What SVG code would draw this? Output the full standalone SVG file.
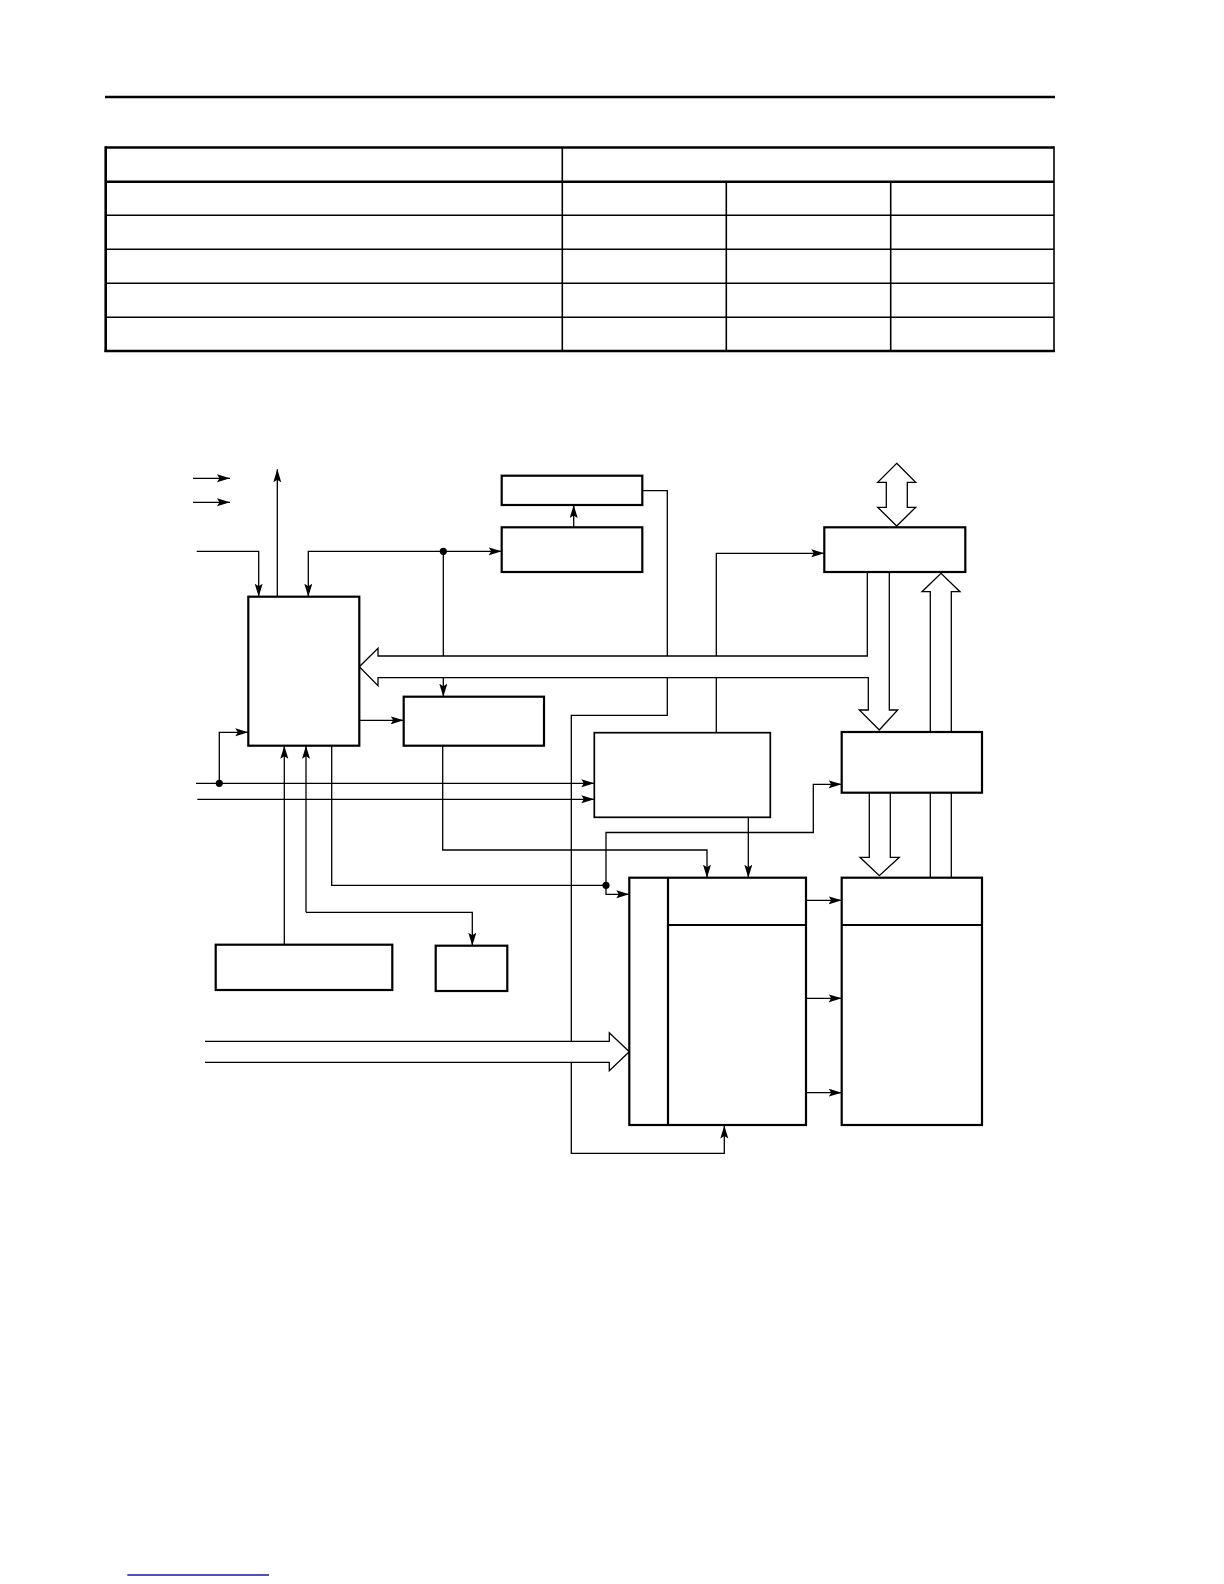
<svg xmlns="http://www.w3.org/2000/svg" width="1224" height="1584" viewBox="0 0 1224 1584">
<style>
.ln{fill:none;stroke:#000;stroke-width:1.3}
.ar{fill:none;stroke:#000;stroke-width:1.3;marker-end:url(#ah)}
.hol{fill:#fff;stroke:#000;stroke-width:1.3;stroke-linejoin:miter}
.box{fill:#fff;stroke:#000;stroke-width:2.2}
.thk{stroke:#000;stroke-width:2.6}
.thn{stroke:#000;stroke-width:1.6}
.dot{fill:#000}
</style>
<defs>
<marker id="ah" markerUnits="userSpaceOnUse" markerWidth="14" markerHeight="9" refX="13" refY="4" orient="auto">
<path d="M0,0 L13,4 L0,8 L2.5,4 z" fill="#000"/>
</marker>
</defs>
<rect width="1224" height="1584" fill="#fff"/>
<g id="header">
<line class="thk" x1="105" y1="97" x2="1055" y2="97"/>
</g>
<g id="table">
<line class="thk" x1="105" y1="147.5" x2="1054" y2="147.5"/>
<line class="thk" x1="105" y1="181.7" x2="1054" y2="181.7"/>
<line class="thn" x1="105" y1="215.3" x2="1054" y2="215.3"/>
<line class="thn" x1="105" y1="249.3" x2="1054" y2="249.3"/>
<line class="thn" x1="105" y1="283.3" x2="1054" y2="283.3"/>
<line class="thn" x1="105" y1="317.3" x2="1054" y2="317.3"/>
<line class="thk" x1="104.5" y1="351" x2="1054.8" y2="351"/>
<line class="thk" x1="105.7" y1="146.3" x2="105.7" y2="352"/>
<line class="thn" x1="1054" y1="146.3" x2="1054" y2="352"/>
<line class="thn" x1="562.3" y1="147.5" x2="562.3" y2="351"/>
<line class="thn" x1="726.3" y1="181.7" x2="726.3" y2="351"/>
<line class="thn" x1="890.7" y1="181.7" x2="890.7" y2="351"/>
</g>
<g id="connectors">
<path class="ar" d="M193,478.3 H230"/>
<path class="ar" d="M193,502.3 H230"/>
<path class="ar" d="M277.3,596.7 V469.3"/>
<path class="ar" d="M196.7,551.3 H258.7 V596.7"/>
<path class="ar" d="M443.3,551.3 H308.3 V596.7"/>
<path class="ar" d="M443.3,551.3 H501.7"/>
<path class="ar" d="M443.3,551.3 V696.7"/>
<circle class="dot" cx="443.3" cy="551.3" r="3.6"/>
<path class="ar" d="M573.7,527.3 V505"/>
<path class="ar" d="M642.3,490.7 H667.3 V715.3 H571.3 V1153.3 H724.3 V1125.5"/>
<path class="ar" d="M716.3,732.7 V553.3 H824.3"/>
<path class="ar" d="M359.3,720.3 H403.7"/>
<path class="ar" d="M196,783.3 H594.3"/>
<path class="ar" d="M197.3,799.3 H594.3"/>
<path class="ar" d="M219.3,783.3 V732.3 H248.3"/>
<circle class="dot" cx="219.3" cy="783.3" r="3.6"/>
<path class="ar" d="M284.3,944.7 V745.7"/>
<path class="ar" d="M306,912.3 V745.7"/>
<path class="ar" d="M306,912.3 H472.3 V945.7"/>
<path class="ln" d="M331.7,745.7 V885.3 H606"/>
<path class="ar" d="M606,885.3 V832.5 H813.3 V784.3 H841.7"/>
<path class="ar" d="M606,885.3 V894.3 H629.3"/>
<circle class="dot" cx="606" cy="885.3" r="3.6"/>
<path class="ar" d="M442.7,745.7 V850 H707 V877.7"/>
<path class="ar" d="M748.3,817.3 V877.7"/>
<path class="ar" d="M806,900.3 H841.7"/>
<path class="ar" d="M806,998.3 H841.7"/>
<path class="ar" d="M806,1092.7 H841.7"/>
<polygon class="hol" points="359.3,666.7 378,648.3 378,656 867.3,656 867.3,572 889.3,572 889.3,710 897.7,710 879.3,730 859.3,710 868.3,710 868.3,677.7 378,677.7 378,685.7"/>
<polyline class="hol" points="869.3,792.7 869.3,857.3 860,857.3 879.3,875.7 899.3,857.3 890.3,857.3 890.3,792.7"/>
<polyline class="hol" points="930.3,877.7 930.3,591.7 922,591.7 941,573.3 960,591.7 951.3,591.7 951.3,877.7"/>
<polygon class="hol" points="896.7,463.3 915.7,482.3 907.3,482.3 907.3,507.3 915.7,507.3 896.7,526 877.7,507.3 886.3,507.3 886.3,482.3 877.7,482.3"/>
<polyline class="hol" points="205,1041.3 609.3,1041.3 609.3,1032.7 629.3,1051.7 609.3,1070.7 609.3,1062.3 205,1062.3"/>
</g>
<g id="nodeA"><rect class="box" x="248.3" y="596.7" width="111" height="149"/></g>
<g id="nodeB1"><rect class="box" x="501.7" y="475.7" width="140.6" height="29.3"/></g>
<g id="nodeB2"><rect class="box" x="501.7" y="527.3" width="140.6" height="44.7"/></g>
<g id="nodeC"><rect class="box" x="403.7" y="696.7" width="140.3" height="49"/></g>
<g id="nodeD"><rect class="box" x="824.3" y="527.3" width="141" height="44.7"/></g>
<g id="nodeE"><rect class="box" x="841.7" y="732" width="140.3" height="60.7"/></g>
<g id="nodeG"><rect class="box" x="594.3" y="732.7" width="176" height="84.6" style="stroke-width:1.7"/></g>
<g id="nodeF">
<rect class="box" x="629.3" y="877.7" width="176.7" height="247.3"/>
<line x1="668" y1="877.7" x2="668" y2="1125" stroke="#000" stroke-width="2.2"/>
<line x1="668" y1="925" x2="806" y2="925" stroke="#000" stroke-width="2.2"/>
</g>
<g id="nodeJ">
<rect class="box" x="841.7" y="877.7" width="140.3" height="247.3"/>
<line x1="841.7" y1="925" x2="982" y2="925" stroke="#000" stroke-width="2.2"/>
</g>
<g id="nodeH"><rect class="box" x="215.7" y="944.7" width="176.6" height="45.3"/></g>
<g id="nodeI"><rect class="box" x="435.7" y="945.7" width="71.6" height="45.3"/></g>
<g id="footer"><line x1="127.3" y1="1575" x2="269" y2="1575" stroke="#1c1c8a" stroke-width="1.4"/></g>
</svg>
